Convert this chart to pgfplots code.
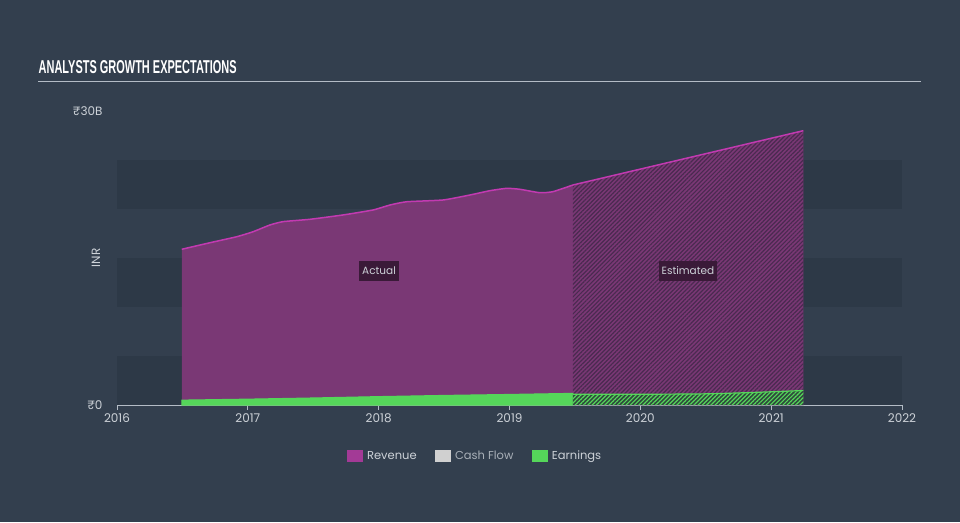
\documentclass[border=0pt]{standalone}
\usepackage{pgfplots}
\pgfplotsset{compat=1.18}
\usepackage{fontspec}
\setmainfont{Poppins}
\newfontfamily\titlefont{Liberation Sans}
\usetikzlibrary{patterns.meta}
\definecolor{bg}{HTML}{333F4E}
\definecolor{band}{HTML}{2D3947}
\definecolor{revfill}{HTML}{7A3875}
\definecolor{revline}{HTML}{C23AB1}
\definecolor{revsq}{HTML}{A33A96}
\definecolor{revhatch}{HTML}{4A2A50}
\definecolor{earn}{HTML}{55D65A}
\definecolor{earndark}{HTML}{2E4A3C}
\definecolor{txt}{HTML}{CDD2D8}
\definecolor{txtdim}{HTML}{A9B0B8}
\definecolor{axisc}{HTML}{B4BCC6}
\definecolor{boxc}{HTML}{3A1A38}
\definecolor{cash}{HTML}{D0D0D0}
\begin{document}
\begin{tikzpicture}
\useasboundingbox (0pt,0pt) rectangle (960pt,522pt);
\fill[bg] (0pt,0pt) rectangle (960pt,522pt);
\node[anchor=base west, inner sep=0pt, text=white] at (38.5pt,448.7pt) {\resizebox{198pt}{13pt}{\titlefont\bfseries ANALYSTS GROWTH EXPECTATIONS}};
\draw[axisc, line width=1.4pt] (38pt,440.5pt) -- (921pt,440.5pt);
\begin{axis}[
  at={(117pt,117pt)}, anchor=south west,
  scale only axis, width=785pt, height=294pt,
  xmin=2016, xmax=2022, ymin=0, ymax=30,
  separate axis lines,
  axis x line*=bottom, axis y line*=left,
  x axis line style={axisc, line width=1.2pt, -},
  y axis line style={draw=none},
  tick align=outside, major tick length=5pt,
  xtick={2016,2017,2018,2019,2020,2021,2022},
  xticklabels={2016,2017,2018,2019,2020,2021,2022},
  xtick style={axisc, line width=1pt},
  ytick={0,30}, yticklabels={₹0,₹30B},
  ytick style={draw=none},
  /pgf/number format/assume math mode=true,
  ticklabel style={font=\fontsize{12}{14}\selectfont, text=txt},
  yticklabel style={xshift=-6pt},
  ylabel={INR},
  every axis y label/.style={at={(axis description cs:-0.0268,0.5)}, rotate=90, anchor=center, font=\fontsize{12}{14}\selectfont, text=txt},
  legend style={at={(axis description cs:0.456,-0.173)}, anchor=center, draw=none, fill=none, text=txt, font=\fontsize{11.5}{13}\selectfont, inner sep=0pt, /tikz/every even column/.append style={column sep=16pt}, /tikz/every odd column/.append style={column sep=3pt}},
  legend columns=3,
  legend cell align=left,
]
\fill[band] (axis cs:2016,0) rectangle (axis cs:2022,5);
\fill[band] (axis cs:2016,10) rectangle (axis cs:2022,15);
\fill[band] (axis cs:2016,20) rectangle (axis cs:2022,25);

% Revenue actual
\addplot[draw=none, fill=revfill, smooth, tension=0.3, forget plot] coordinates {
(2016.495,15.89)(2016.711,16.56)(2016.915,17.17)(2017.04,17.68)(2017.169,18.37)(2017.269,18.71)(2017.475,18.95)(2017.727,19.39)(2017.957,19.90)(2018.087,20.41)(2018.214,20.74)(2018.492,20.92)(2018.698,21.43)(2018.851,21.87)(2018.979,22.11)(2019.08,22.01)(2019.233,21.66)(2019.333,21.77)(2019.485,22.45)
} \closedcycle;
% Revenue estimated
\addplot[draw=none, fill=revfill, postaction={pattern={Lines[angle=45,distance=3pt,line width=1.2pt]}, pattern color=revhatch}, forget plot] coordinates {
(2019.485,22.45)(2021.246,27.99)
} \closedcycle;
% Revenue line
\addplot[revline, line width=1.5pt, smooth, tension=0.3, forget plot] coordinates {
(2016.495,15.89)(2016.711,16.56)(2016.915,17.17)(2017.04,17.68)(2017.169,18.37)(2017.269,18.71)(2017.475,18.95)(2017.727,19.39)(2017.957,19.90)(2018.087,20.41)(2018.214,20.74)(2018.492,20.92)(2018.698,21.43)(2018.851,21.87)(2018.979,22.11)(2019.08,22.01)(2019.233,21.66)(2019.333,21.77)(2019.485,22.45)
};
\addplot[revline, line width=1.5pt, forget plot] coordinates {(2019.485,22.45)(2021.246,27.99)};

% Earnings actual
\addplot[draw=earn, fill=earn, line width=1pt, forget plot] coordinates {
(2016.495,0.50)(2017.0,0.60)(2017.5,0.72)(2018.0,0.86)(2018.5,0.98)(2019.0,1.08)(2019.485,1.19)
} \closedcycle;
% Earnings estimated
\addplot[draw=none, fill=earndark, postaction={pattern={Lines[angle=45,distance=3pt,line width=1.2pt]}, pattern color=earn}, forget plot] coordinates {
(2019.485,1.10)(2020.0,1.10)(2020.5,1.14)(2020.9,1.30)(2021.246,1.48)
} \closedcycle;
\addplot[earn, line width=1.2pt, smooth, forget plot] coordinates {
(2019.485,1.10)(2020.0,1.10)(2020.5,1.14)(2020.9,1.30)(2021.246,1.48)
};

\node[fill=boxc, text=txt, font=\fontsize{10.5}{12}\selectfont, inner xsep=3pt, inner ysep=0pt, minimum height=20pt] at (axis cs:2018.003,13.67) {Actual};
\node[fill=boxc, text=txt, font=\fontsize{10.5}{12}\selectfont, inner xsep=3pt, inner ysep=0pt, minimum height=20pt] at (axis cs:2020.364,13.67) {Estimated};

\addlegendimage{legend image code/.code={\fill[revsq] (0pt,-5.5pt) rectangle (15pt,5.5pt);}}
\addlegendentry{Revenue}
\addlegendimage{legend image code/.code={\fill[cash] (0pt,-5.5pt) rectangle (15pt,5.5pt);}}
\addlegendentry{\textcolor{txtdim}{Cash Flow}}
\addlegendimage{legend image code/.code={\fill[earn] (0pt,-5.5pt) rectangle (15pt,5.5pt);}}
\addlegendentry{Earnings}
\end{axis}
\end{tikzpicture}
\end{document}
